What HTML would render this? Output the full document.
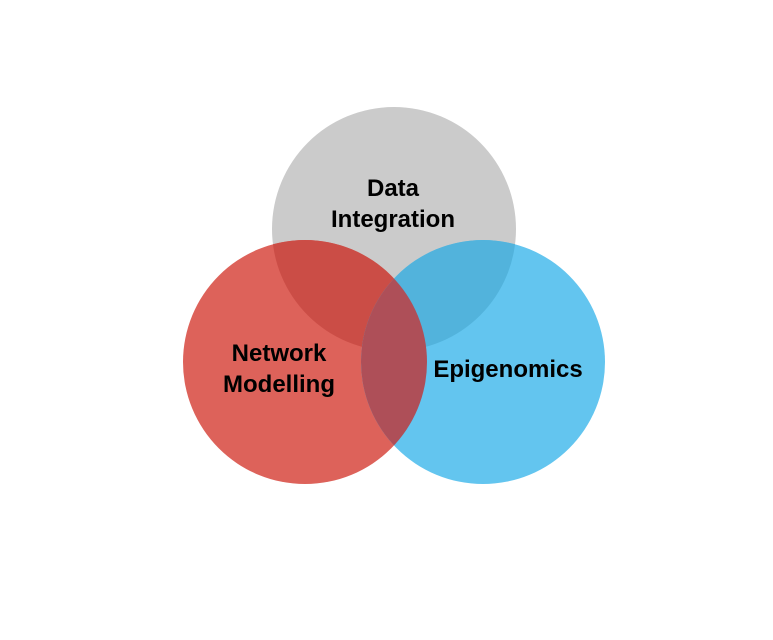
<!DOCTYPE html>
<html><head><meta charset="utf-8"><style>html,body{margin:0;padding:0;background:#fff}svg{display:block}</style></head>
<body>
<svg width="773" height="640" viewBox="0 0 773 640" xmlns="http://www.w3.org/2000/svg">
<defs>
<clipPath id="cg"><circle cx="394" cy="229" r="122"/></clipPath>
<clipPath id="cr"><circle cx="305" cy="362" r="122"/></clipPath>
</defs>
<rect width="773" height="640" fill="#fff"/>
<circle cx="394" cy="229" r="122" fill="#cbcbcb"/>
<circle cx="305" cy="362" r="122" fill="#dd625a"/>
<circle cx="483" cy="362" r="122" fill="#63c5ef"/>
<circle cx="305" cy="362" r="122" fill="#cb4d46" clip-path="url(#cg)"/>
<circle cx="483" cy="362" r="122" fill="#52b3dc" clip-path="url(#cg)"/>
<circle cx="483" cy="362" r="122" fill="#ae4f58" clip-path="url(#cr)"/>
<g font-family="'Liberation Sans',sans-serif" font-weight="bold" font-size="24" fill="#000" text-anchor="middle">
<text x="393" y="196">Data</text>
<text x="393" y="227">Integration</text>
<text x="279" y="361">Network</text>
<text x="279" y="392">Modelling</text>
<text x="508" y="377">Epigenomics</text>
</g>
</svg>
</body></html>
